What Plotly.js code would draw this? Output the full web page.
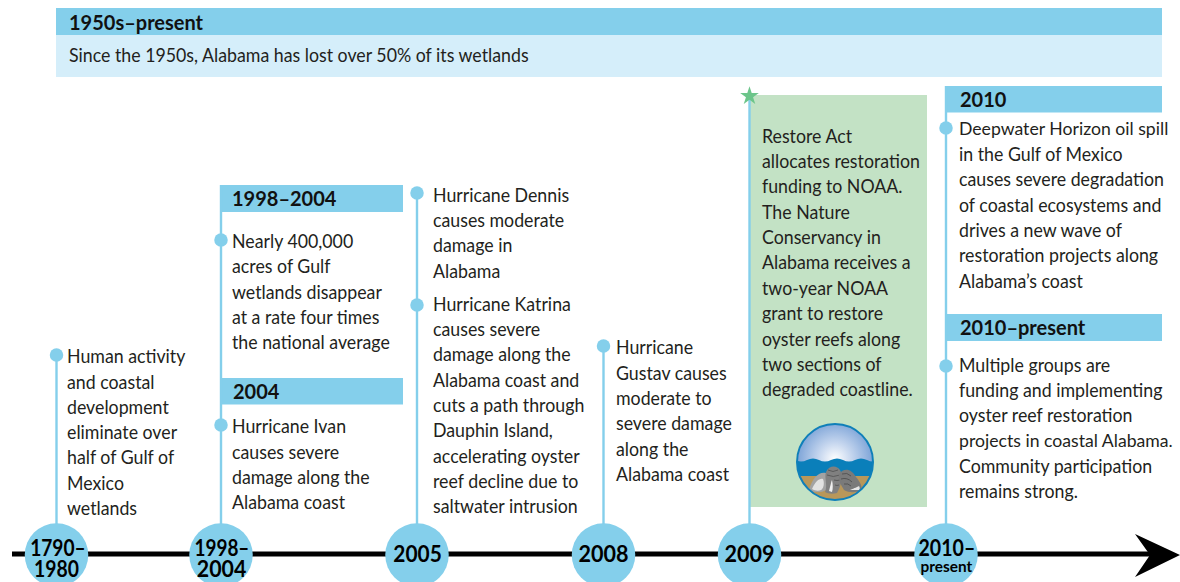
<!DOCTYPE html>
<html><head><meta charset="utf-8">
<script src="https://cdn.plot.ly/plotly-3.0.1.min.js"></script>
<style>html,body{margin:0;padding:0;background:#fff;overflow:hidden}#c{width:1180px;height:582px}</style>
</head><body><div id="c"></div>
<script>
// ---- content ----
const eraLabels = [["1790–","1980"],["1998–","2004"],["2005"],["2008"],["2009"],["2010–","present"]];
const bannerTitle = "1950s–present";
const bannerText = "Since the 1950s, Alabama has lost over 50% of its wetlands";
const headerLabels = ["1998–2004","2004","2010","2010–present"];
const humanActivity = ["Human activity","and coastal","development","eliminate over","half of Gulf of","Mexico","wetlands"];
const wetlandsLoss = ["Nearly 400,000","acres of Gulf","wetlands disappear","at a rate four times","the national average"];
const ivan = ["Hurricane Ivan","causes severe","damage along the","Alabama coast"];
const dennis = ["Hurricane Dennis","causes moderate","damage in","Alabama"];
const katrina = ["Hurricane Katrina","causes severe","damage along the","Alabama coast and","cuts a path through","Dauphin Island,","accelerating oyster","reef decline due to","saltwater intrusion"];
const gustav = ["Hurricane","Gustav causes","moderate to","severe damage","along the","Alabama coast"];
const restoreAct = ["Restore Act","allocates restoration","funding to NOAA.","The Nature","Conservancy in","Alabama receives a","two-year NOAA","grant to restore","oyster reefs along","two sections of","degraded coastline."];
const deepwater = ["Deepwater Horizon oil spill","in the Gulf of Mexico","causes severe degradation","of coastal ecosystems and","drives a new wave of","restoration projects along","Alabama’s coast"];
const groups = ["Multiple groups are","funding and implementing","oyster reef restoration","projects in coastal Alabama.","Community participation","remains strong."];

// ---- placement ----
const BLUE="#84cfeb", PALE="#d5eefa", GREEN="#c3e2c5", INK="#231f20";
const FONT="Lato, sans-serif";
const BODY_SIZE=19.1, BODY_SQUEEZE=0.93;
const TIGHT_SIZE=18.2, TIGHT_SQUEEZE=0.97; // the two longest lines, which touch the right edge
const eraX=[56.5,221,417,603.5,749.5,946];
const eraY=555;
const stemTop=[355,185,193,346,96,86];
const dotX=[56.5,221,221,417,417,603.5,946,946];
const dotY=[355,240,425,193,305,346,128,366];
const headerBox=[[221,403,185,212],[221,403,378,404.5],[946,1162,86,112.5],[946,1162,314,341]];
const headerPos=[[232,198],[232.5,390.5],[959.5,98.5],[959.5,326.5]];
const blocks=[
 [humanActivity,67,[355.5,381,406,431.5,456.5,482,507]],
 [wetlandsLoss,232,[240,265.5,291,316,341.5]],
 [ivan,232,[425.5,451,476,501.5]],
 [dennis,433,[194,219,244.5,270]],
 [katrina,433,[303,328.5,353.5,379,404,429.5,455,480,505.5]],
 [gustav,616,[346.5,372,397,422.5,448,473.5]],
 [restoreAct,762,[135,160,185.5,211,236,261.5,287,312,338,363,388.5]],
 [deepwater,959,[128,153,178.5,204,229,254.5,280]],
 [groups,959,[364.5,389.5,414.5,440,465,490.5]]
];
const tightLines=["Deepwater Horizon oil spill","projects in coastal Alabama."];

const rect=(x0,x1,y0,y1,c)=>({type:"rect",xref:"x",yref:"y",x0,x1,y0,y1,fillcolor:c,line:{width:0},layer:"below"});
const shapes=[
 rect(56,1162,8,35,BLUE), rect(56,1162,35,77,PALE), rect(750,927,95,507,GREEN),
 ...headerBox.map(b=>rect(b[0],b[1],b[2],b[3],BLUE)),
 ...eraX.map((x,i)=>({type:"line",xref:"x",yref:"y",x0:x,x1:x,y0:stemTop[i],y1:eraY,line:{color:BLUE,width:2.4},layer:"below"})),
 {type:"line",xref:"x",yref:"y",x0:12,x1:1150,y0:554,y1:554,line:{color:"#000",width:5},layer:"below"},
 {type:"path",xref:"x",yref:"y",path:"M1135 534 L1180 555 L1135 577 L1150 555 Z",fillcolor:"#000",line:{width:0},layer:"below"}
];

const squeezeOf=[];
const ann=(text,x,y,size,k,opt)=>{
  squeezeOf.push(k);
  return Object.assign({text,x,y,xref:"x",yref:"y",xanchor:"left",align:"left",yanchor:"middle",showarrow:false,
    font:{family:FONT,size,color:INK},borderpad:0,borderwidth:0},opt||{});
};
const boldFont={family:FONT,size:20,color:"#111",weight:700};
const annotations=[
 ann(bannerTitle,69,21.5,20,1,{font:boldFont}),
 ann(bannerText,69,54,BODY_SIZE,BODY_SQUEEZE),
 ...headerLabels.map((t,i)=>ann(t,headerPos[i][0],headerPos[i][1],20,1,{font:boldFont}))
];
blocks.forEach(b=>b[0].forEach((t,i)=>{
  const tight=tightLines.includes(t);
  annotations.push(ann(t,b[1],b[2][i],tight?TIGHT_SIZE:BODY_SIZE,tight?TIGHT_SQUEEZE:BODY_SQUEEZE));
}));
const eraSqueeze=[[.87,.88],[.86,.97],[.95],[.98],[.98],[.89,1.06]];
eraLabels.forEach((lines,i)=>{
  const ys=lines.length===1?[553.5]:(i===5?[547.5,566]:[547.5,568.5]);
  lines.forEach((t,j)=>{
    const small=(t==="present");
    annotations.push(ann(t,eraX[i]+(j===0&&lines.length>1?1:0),ys[j],small?14.5:22,eraSqueeze[i][j],{xanchor:"center",align:"center",
      font:{family:FONT,size:small?14.5:22,color:"#000",weight:700}}));
  });
});

const logo=`<svg xmlns="http://www.w3.org/2000/svg" viewBox="0 0 80 80" width="80" height="80">
<defs><radialGradient id="s" gradientUnits="userSpaceOnUse" cx="40" cy="37" r="42"><stop offset="0" stop-color="#ffffff"/><stop offset=".4" stop-color="#c4d5ee"/><stop offset="1" stop-color="#6f9ad3"/></radialGradient>
<clipPath id="k"><circle cx="40" cy="40" r="38"/></clipPath></defs>
<g clip-path="url(#k)"><rect width="80" height="80" fill="url(#s)"/>
<path d="M0 38 q6 3 12 0 t12 0 t12 0 t12 0 t12 0 t12 0 t12 0 V80 H0Z" fill="#0a7fba"/>
<rect y="54" width="80" height="26" fill="#b8975a"/>
<path d="M14 68 C17 56 24 49 31 51 C35 54 34 64 31 68 C26 71 20 71 14 68Z" fill="#a3a3a3"/><path d="M17 67 C20 60 24 56 28 57 C30 62 28 67 26 68 C24 69 20 69 17 67Z" fill="#e2e2e2"/>
<path d="M31 50 C34 43 42 43 45 48 C49 54 46 64 42 71 C38 72 33 72 30 70 C33 63 29 56 31 50Z" fill="#808080"/><path d="M34 69 C36 62 36 60 37 58 C38 62 38 67 37 70Z" fill="#f0f0f0"/>
<path d="M33 48 q5 3 10 0 M32 53 q6 3 13 0 M39 58 q3 1 6 0 M40 63 q2 1 4 0" fill="none" stroke="#5a5a5a" stroke-width="1"/>
<path d="M44 52 C49 45 57 47 61 55 C65 60 68 65 66 68 C61 71 54 71 49 68 C46 63 43 58 44 52Z" fill="#7a7a7a"/><path d="M55 68 C60 66 62 65 64 64 C65 66 65 67 64 68Z" fill="#e6e6e6"/>
<path d="M47 52 q5 -2 9 2 M46 57 q6 -2 11 3 M49 62 q4 -1 7 2" fill="none" stroke="#555" stroke-width="1"/>
</g><circle cx="40" cy="40" r="38" fill="none" stroke="#0f7fb9" stroke-width="2"/></svg>`;

const traces=[
 {type:"scatter",mode:"markers",x:eraX,y:eraX.map(()=>eraY),marker:{size:63.5,color:BLUE,line:{width:0}},hoverinfo:"skip",cliponaxis:true},
 {type:"scatter",mode:"markers",x:dotX,y:dotY,marker:{size:13.5,color:BLUE,line:{width:0}},hoverinfo:"skip"},
 {type:"scatter",mode:"markers",x:[749.5],y:[96],marker:{size:14,color:"#6cc58a",symbol:"star",line:{width:0}},hoverinfo:"skip"}
];
Plotly.newPlot("c",traces,{
 width:1180,height:582,margin:{l:0,r:0,t:0,b:0},paper_bgcolor:"#fff",plot_bgcolor:"#fff",showlegend:false,
 xaxis:{range:[0,1180],visible:false,fixedrange:true},
 yaxis:{range:[582,0],visible:false,fixedrange:true},
 shapes,annotations,
 images:[{source:"data:image/svg+xml;charset=utf-8,"+encodeURIComponent(logo),xref:"x",yref:"y",x:795,y:422,sizex:80,sizey:80,xanchor:"left",yanchor:"top",sizing:"stretch",layer:"above"}]
},{displayModeBar:false,staticPlot:true}).then(gd=>{
  // The original typeface is condensed: narrow each line to the reference's width.
  gd.querySelectorAll(".annotation-text").forEach((el,i)=>{
    const k=squeezeOf[i];
    if(k===1) return;
    el.setAttribute("lengthAdjust","spacingAndGlyphs");
    el.setAttribute("textLength",(el.getComputedTextLength()*k).toFixed(2));
  });
});
</script></body></html>
